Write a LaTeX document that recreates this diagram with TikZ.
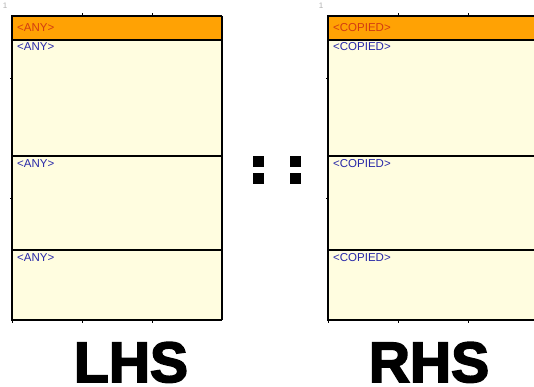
\documentclass[tikz,border=0pt]{standalone}
\usepackage{fontspec}
\setmainfont{Liberation Sans}
\newfontfamily\sidefont[FakeBold=3]{Liberation Sans Bold}
\definecolor{band}{HTML}{FFA204}
\definecolor{cream}{HTML}{FFFDE0}
\definecolor{headtext}{HTML}{D23C12}
\definecolor{celltext}{HTML}{2828A8}
\tikzset{
  frame/.style={draw=black,line width=1.8pt},
  cellname/.style={anchor=west,inner sep=0pt,font=\fontsize{11.5}{11.5}\selectfont,text=celltext},
  colondot/.style={fill=black},
  sidename/.style={font=\sidefont\fontsize{57}{57}\selectfont,anchor=base,inner sep=0pt,text depth=0pt}
}
\begin{document}
\begin{tikzpicture}[x=1pt,y=-1pt]
  \useasboundingbox[fill=white] (0,0) rectangle (534,387);
  % the two pattern panels
  \foreach \px/\pw/\nm/\tx in {12/210/lhs/ANY, 328/206/rhs/COPIED} {
    \fill[cream] (\px,16) rectangle ++(\pw,305);
    \fill[band] (\px,16) rectangle ++(\pw,24);
    \draw[frame] (\px,40) -- ++(\pw,0);
    \draw[frame] (\px,156) -- ++(\pw,0);
    \draw[frame] (\px,250) -- ++(\pw,0);
    \draw[frame] (\px+\pw,16) -- (\px,16) -- (\px,320) -- (\px+\pw,320);
    \foreach \tk in {70,140} {
      \draw[thin] (\px+\tk,16) -- ++(0,-3);
      \draw[thin] (\px+\tk,320) -- ++(0,3);
    }
    \draw[thin] (\px,320) -- ++(0,3);
    \draw[thin] (\px,78) -- ++(-2,0);
    \draw[thin] (\px,198) -- ++(-2,0);
    \node[text=black!30,font=\fontsize{8}{8}\selectfont] (\nm-num) at (\px-7,6) {1};
    \node[cellname,text=headtext] (\nm-head) at (\px+5,28) {<\tx>};
    \node[cellname] (\nm-a) at (\px+5,47) {<\tx>};
    \node[cellname] (\nm-b) at (\px+5,164) {<\tx>};
    \node[cellname] (\nm-c) at (\px+5,258) {<\tx>};
  }
  \draw[frame] (222,16) -- (222,320);
  % the :: between the sides
  \fill[colondot] (253,156) rectangle (264,167);
  \fill[colondot] (253,173) rectangle (264,184);
  \fill[colondot] (290,156) rectangle (301,167);
  \fill[colondot] (290,173) rectangle (301,184);
  \node[sidename] (lhs-name) at (131,382) {LHS};
  \node[sidename] (rhs-name) at (429,382) {RHS};
\end{tikzpicture}
\end{document}
